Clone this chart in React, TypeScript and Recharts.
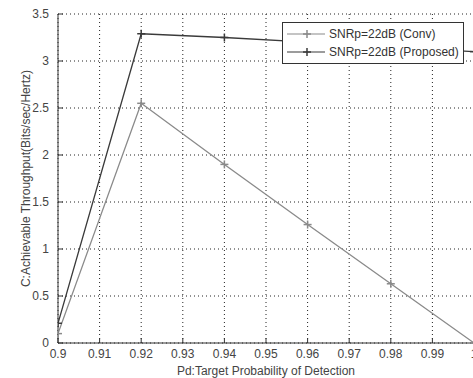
import {
  CartesianGrid,
  Legend,
  Line,
  LineChart,
  XAxis,
  YAxis,
} from 'recharts';

const pdValues = [0.9, 0.92, 0.94, 0.96, 0.98, 1.0];
const convThroughput = [0.1, 2.55, 1.9, 1.26, 0.63, 0];
const proposedThroughput = [0.21, 3.29, 3.25, 3.2, 3.15, 3.1];

const xTicks = [0.9, 0.91, 0.92, 0.93, 0.94, 0.95, 0.96, 0.97, 0.98, 0.99, 1];
const yTicks = [0, 0.5, 1, 1.5, 2, 2.5, 3, 3.5];

const seriesNames = ['SNRp=22dB (Conv)', 'SNRp=22dB (Proposed)'];
const seriesColors = ['#8a8a8a', '#3a3a3a'];

const FONT = 'Arial, "Liberation Sans", sans-serif';

const data = pdValues.map((pd, i) => ({
  pd,
  conv: convThroughput[i],
  proposed: proposedThroughput[i],
}));

interface TickProps {
  x?: number;
  y?: number;
  payload?: { value: number };
}

const fmtX = (v: number) => (v === 1 ? '1' : String(Number(v.toFixed(2))));

const XTick = ({ x = 0, y = 0, payload }: TickProps) => (
  <g>
    <line x1={x} x2={x} y1={y - 6} y2={y - 11} stroke="#333" strokeWidth={1} />
    <text x={x} y={y} dy="0.71em" textAnchor="middle" fontSize={12} fontFamily={FONT} fill="#444">
      {payload ? fmtX(payload.value) : ''}
    </text>
  </g>
);

const YTick = ({ x = 0, y = 0, payload }: TickProps) => (
  <g>
    <line x1={x + 9} x2={x + 14} y1={y} y2={y} stroke="#333" strokeWidth={1} />
    <text x={x} y={y} dy="0.355em" textAnchor="end" fontSize={12} fontFamily={FONT} fill="#444">
      {payload ? String(payload.value) : ''}
    </text>
  </g>
);

interface DotProps {
  cx?: number;
  cy?: number;
  stroke?: string;
}

const PlusDot = ({ cx, cy, stroke }: DotProps) => {
  if (cx == null || cy == null) return null;
  return (
    <g>
      <line x1={cx - 4} x2={cx + 4} y1={cy} y2={cy} stroke={stroke} strokeWidth={1.5} />
      <line x1={cx} x2={cx} y1={cy - 4} y2={cy + 4} stroke={stroke} strokeWidth={1.5} />
    </g>
  );
};

const LegendBox = () => (
  <div
    style={{
      border: '1px solid #333',
      background: '#fff',
      width: 180,
      padding: '2px 0',
      fontFamily: FONT,
      fontSize: 12,
      color: '#333',
    }}
  >
    {seriesNames.map((name, i) => (
      <div key={name} style={{ display: 'flex', alignItems: 'center', height: 18 }}>
        <svg width={46} height={18} style={{ flex: 'none' }}>
          <line x1={4} x2={42} y1={9} y2={9} stroke={seriesColors[i]} strokeWidth={1.2} />
          <PlusDot cx={24} cy={9} stroke={seriesColors[i]} />
        </svg>
        <span style={{ whiteSpace: 'nowrap' }}>{name}</span>
      </div>
    ))}
  </div>
);

export default function App() {
  return (
    <div
      style={{
        position: 'absolute',
        left: 0,
        top: 0,
        width: 473,
        height: 378,
        overflow: 'hidden',
        background: '#fff',
      }}
    >
      <LineChart width={500} height={378} data={data} margin={{ top: 14, right: 26, left: 0, bottom: 0 }}>
        <CartesianGrid
          stroke="#222"
          strokeDasharray="1 3"
          horizontalValues={yTicks}
          verticalValues={xTicks}
        />
        <XAxis
          dataKey="pd"
          type="number"
          domain={[0.9, 1]}
          ticks={xTicks}
          height={35}
          tickSize={6}
          tickMargin={0}
          tickLine={false}
          stroke="#333"
          tick={<XTick />}
          interval={0}
          allowDataOverflow
          label={{
            value: 'Pd:Target Probability of Detection',
            position: 'insideBottom',
            offset: 3,
            style: { fontSize: 12, fontFamily: FONT, fill: '#444' },
          }}
        />
        <XAxis
          xAxisId="top"
          orientation="top"
          dataKey="pd"
          type="number"
          domain={[0.9, 1]}
          ticks={xTicks}
          height={0}
          mirror
          tick={false}
          tickSize={5}
          stroke="#333"
          interval={0}
          allowDataOverflow
        />
        <YAxis
          type="number"
          domain={[0, 3.5]}
          ticks={yTicks}
          width={58}
          tickSize={6}
          tickMargin={3}
          tickLine={false}
          stroke="#333"
          tick={<YTick />}
          interval={0}
          label={{
            value: 'C:Achievable Throughput(Bits/sec/Hertz)',
            angle: -90,
            position: 'insideLeft',
            offset: 26,
            style: { fontSize: 12, fontFamily: FONT, fill: '#444', textAnchor: 'middle' },
          }}
        />
        <YAxis
          yAxisId="right"
          orientation="right"
          type="number"
          domain={[0, 3.5]}
          ticks={yTicks}
          width={0}
          mirror
          tick={false}
          tickSize={5}
          stroke="#333"
        />
        <Legend
          layout="vertical"
          align="center"
          verticalAlign="middle"
          wrapperStyle={{ top: 22, left: 282, width: 'auto', height: 'auto' }}
          content={<LegendBox />}
        />
        <Line
          type="linear"
          dataKey="conv"
          name={seriesNames[0]}
          stroke={seriesColors[0]}
          strokeWidth={1.3}
          dot={<PlusDot />}
          activeDot={false}
          isAnimationActive={false}
        />
        <Line
          type="linear"
          dataKey="proposed"
          name={seriesNames[1]}
          stroke={seriesColors[1]}
          strokeWidth={1.3}
          dot={<PlusDot />}
          activeDot={false}
          isAnimationActive={false}
        />
      </LineChart>
    </div>
  );
}
